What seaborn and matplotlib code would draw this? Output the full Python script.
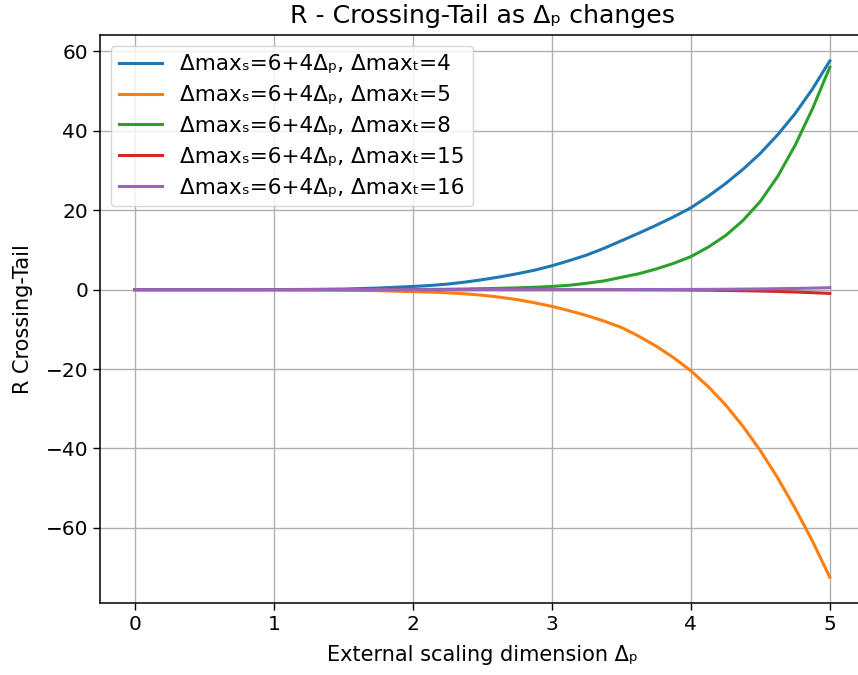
import matplotlib
matplotlib.use("Agg")
import matplotlib.pyplot as plt
import seaborn as sns
import pandas as pd

x_vals = [0, 0.25, 0.5, 0.75, 1, 1.25, 1.5, 1.75, 2,
          2.125, 2.25, 2.375, 2.5, 2.625, 2.75, 2.875, 3,
          3.125, 3.25, 3.375, 3.5, 3.625, 3.75, 3.875, 4,
          4.125, 4.25, 4.375, 4.5, 4.625, 4.75, 4.875, 5]
r_t4 = [0, 0, 0, 0.005, 0.02, 0.06, 0.15, 0.4, 0.8,
        1.05, 1.4, 1.9, 2.5, 3.2, 4.0, 4.9, 6.0,
        7.3, 8.7, 10.4, 12.3, 14.2, 16.2, 18.3, 20.6,
        23.5, 26.7, 30.3, 34.3, 39.0, 44.3, 50.5, 57.6]
r_t5 = [0, 0, 0, -0.003, -0.01, -0.04, -0.1, -0.25, -0.5,
        -0.62, -0.8, -1.05, -1.4, -1.9, -2.5, -3.3, -4.2,
        -5.3, -6.5, -7.9, -9.5, -11.7, -14.2, -17.1, -20.4,
        -24.4, -29.0, -34.4, -40.5, -47.4, -55.0, -63.3, -72.4]
r_t8 = [0, 0, 0, 0, 0, 0, 0.005, 0.02, 0.05,
        0.07, 0.1, 0.16, 0.25, 0.34, 0.45, 0.6, 0.8,
        1.1, 1.6, 2.2, 3.1, 4.0, 5.2, 6.6, 8.3,
        10.7, 13.6, 17.4, 22.2, 28.5, 36.3, 45.5, 56.0]
r_t15 = [0, 0, 0, 0, 0, 0, 0, 0, 0,
         0, 0, 0, 0, 0, 0, 0, -0.005,
         -0.007, -0.01, -0.015, -0.02, -0.03, -0.05, -0.07, -0.1,
         -0.14, -0.2, -0.27, -0.35, -0.46, -0.6, -0.76, -0.95]
r_t16 = [0, 0, 0, 0, 0, 0, 0, 0, 0,
         0, 0, 0, 0, 0, 0, 0, 0.003,
         0.004, 0.006, 0.009, 0.012, 0.02, 0.03, 0.04, 0.05,
         0.07, 0.1, 0.14, 0.18, 0.24, 0.3, 0.39, 0.5]

labels = ["Δmaxₛ=6+4Δₚ, Δmaxₜ=4", "Δmaxₛ=6+4Δₚ, Δmaxₜ=5", "Δmaxₛ=6+4Δₚ, Δmaxₜ=8",
          "Δmaxₛ=6+4Δₚ, Δmaxₜ=15", "Δmaxₛ=6+4Δₚ, Δmaxₜ=16"]
series = [r_t4, r_t5, r_t8, r_t15, r_t16]
colors = ["#1f77b4", "#ff7f0e", "#2ca02c", "#d62728", "#9467bd"]

rows = []
for lab, ys in zip(labels, series):
    for xv, yv in zip(x_vals, ys):
        rows.append({"x": xv, "y": yv, "series": lab})
df = pd.DataFrame(rows)

plt.rcParams['font.family'] = ['DejaVu Sans']
plt.rcParams['font.size'] = 14

fig = plt.figure(figsize=(8.58, 6.75), dpi=100)
ax = fig.add_axes([0.1166, 0.1067, 0.891, 0.8413])
sns.lineplot(data=df, x="x", y="y", hue="series", hue_order=labels,
             palette=colors, linewidth=2.2, ax=ax, sort=False)
ax.grid(True, color="#b0b0b0", linewidth=1.0)
ax.set_axisbelow(True)
ax.tick_params(labelsize=14.5, length=5, width=1.0)
ax.set_title("R - Crossing-Tail as Δₚ changes", fontsize=18.2, pad=9)
ax.set_xlabel("External scaling dimension Δₚ", fontsize=15, labelpad=8)
ax.set_ylabel("R Crossing-Tail", fontsize=15, labelpad=9)
for s in ax.spines.values():
    s.set_linewidth(1.1)
ax.legend(loc="upper left", fontsize=15.5, framealpha=0.8)
fig.savefig("out.png", dpi=100)
